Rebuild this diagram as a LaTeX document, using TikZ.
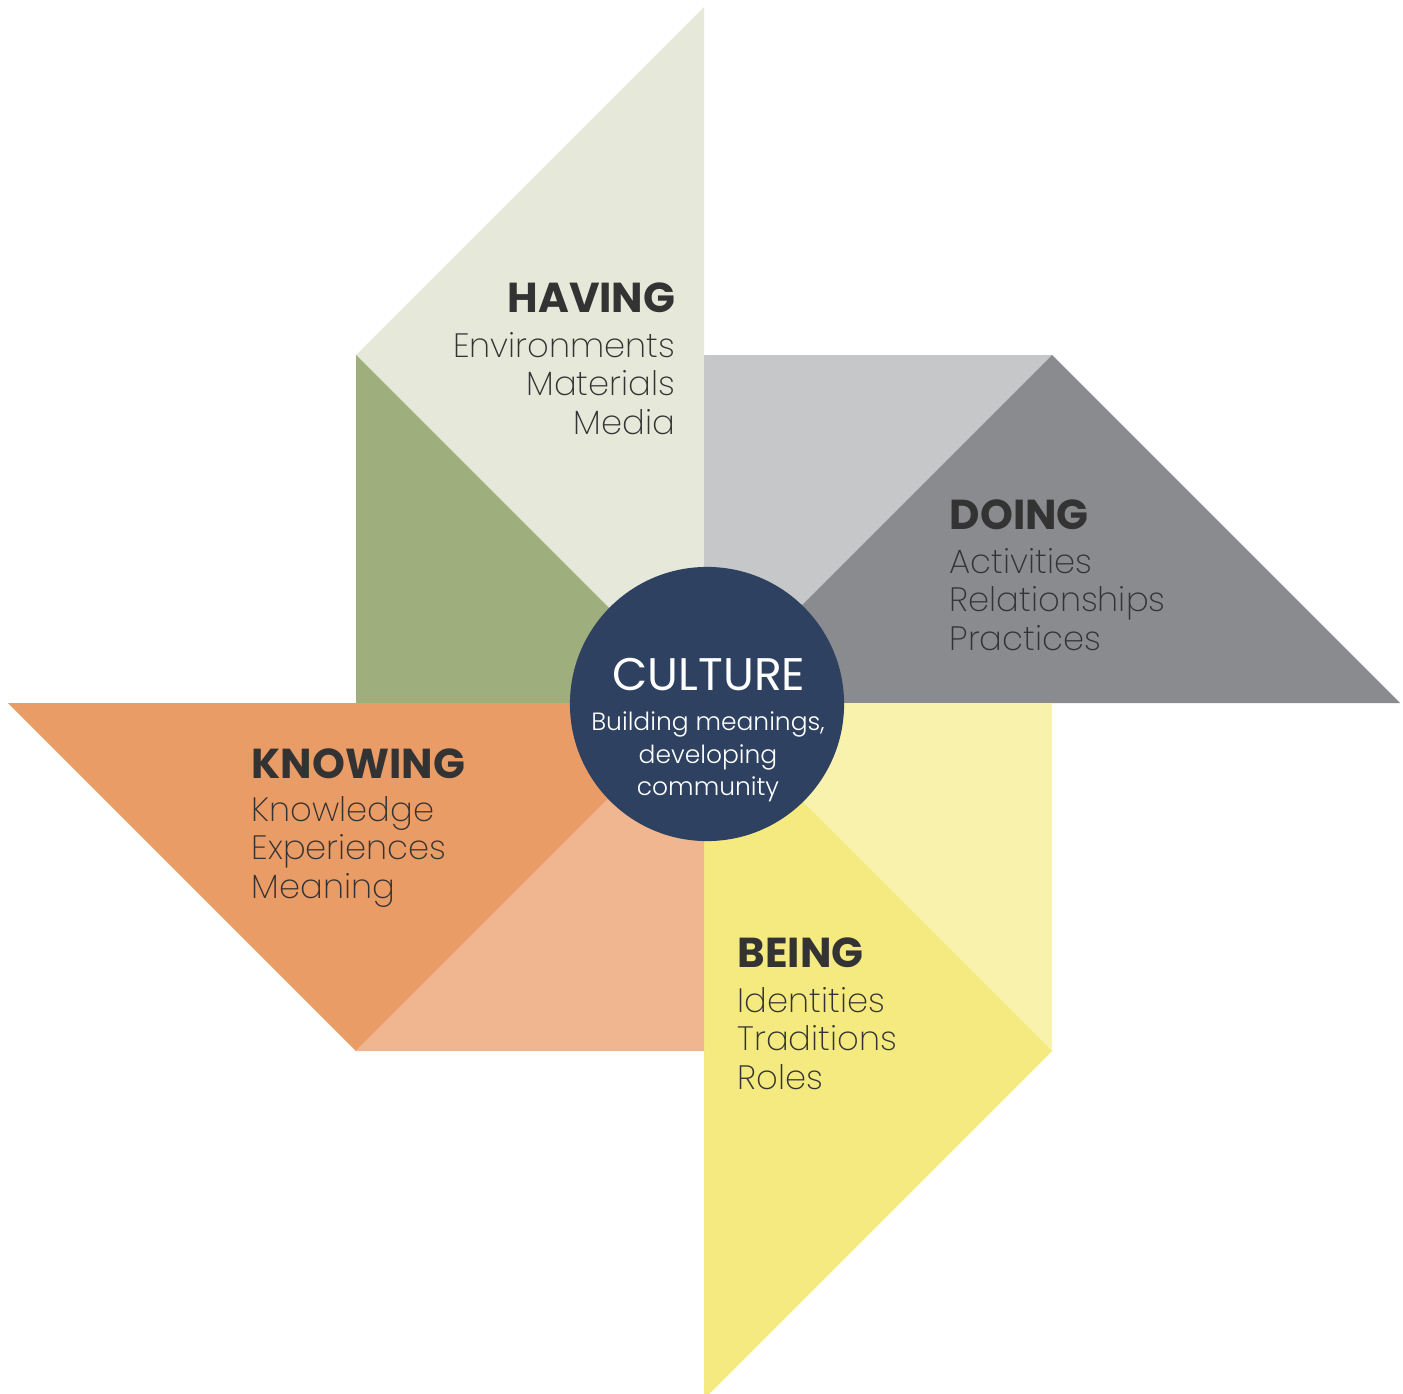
\documentclass[tikz,border=0pt]{standalone}
\usepackage{fontspec}
\setmainfont{Poppins}[UprightFont=* Light, BoldFont=* Bold]
\newfontfamily\culturefont{Poppins}
\newfontfamily\thinfont{Poppins ExtraLight}

\definecolor{havingl}{HTML}{E6E8DA}
\definecolor{havingd}{HTML}{9FAE7D}
\definecolor{doingl}{HTML}{C6C7C9}
\definecolor{doingd}{HTML}{8A8B8F}
\definecolor{beingl}{HTML}{F8F2AC}
\definecolor{beingd}{HTML}{F4EA7F}
\definecolor{knowingd}{HTML}{EA9C67}
\definecolor{knowingl}{HTML}{F0B68F}
\definecolor{navy}{HTML}{2E4160}
\definecolor{ink}{HTML}{333333}

\begin{document}
\begin{tikzpicture}[x=0.01cm, y=-0.01cm,
	head/.style={inner sep=0pt, text=ink, font=\fontsize{11.9}{12}\selectfont\bfseries},
	item/.style={inner sep=0pt, text=ink, font=\thinfont\fontsize{9.6}{10}\selectfont},
	core/.style={inner sep=0pt, text=white, font=\fontsize{7.1}{8}\selectfont}]
	\useasboundingbox (0,0) rectangle (1403,1394);
	% blades
	\fill[havingl] (704,7) -- (704,703) -- (356,355) -- cycle;
	\fill[havingd] (356,355) -- (704,703) -- (356,703) -- cycle;
	\fill[doingl] (704,355) -- (1052,355) -- (704,703) -- cycle;
	\fill[doingd] (1052,355) -- (1400,703) -- (704,703) -- cycle;
	\fill[beingl] (1052,703) -- (1052,1051) -- (704,703) -- cycle;
	\fill[beingd] (1052,1051) -- (704,1399) -- (704,703) -- cycle;
	\fill[knowingd] (8,703) -- (704,703) -- (356,1051) -- cycle;
	\fill[knowingl] (356,1051) -- (704,1051) -- (704,703) -- cycle;
	% centre
	\draw (707,704) node(culture) [circle, fill=navy, minimum size=2.74cm] {};
	\draw (709,690) node(culturet) [core, anchor=base, font=\culturefont\fontsize{13}{14}\selectfont] {CULTURE};
	\draw (708,730) node(core1) [core, anchor=base] {Building meanings,};
	\draw (708,763) node(core2) [core, anchor=base] {developing};
	\draw (708,795) node(core3) [core, anchor=base] {community};
	% labels
	\draw (676,312) node(having) [head, anchor=base east] {HAVING};
	\foreach \t [count=\i] in {Environments,Materials,Media}
		\draw (676,{357+38.5*(\i-1)}) node(having\i) [item, anchor=base east] {\t};
	\draw (949,529) node(doing) [head, anchor=base west] {DOING};
	\foreach \t [count=\i] in {Activities,Relationships,Practices}
		\draw (949,{573+38.5*(\i-1)}) node(doing\i) [item, anchor=base west] {\t};
	\draw (251,778) node(knowing) [head, anchor=base west] {KNOWING};
	\foreach \t [count=\i] in {Knowledge,Experiences,Meaning}
		\draw (251,{821+38.5*(\i-1)}) node(knowing\i) [item, anchor=base west] {\t};
	\draw (737,967) node(being) [head, anchor=base west] {BEING};
	\foreach \t [count=\i] in {Identities,Traditions,Roles}
		\draw (737,{1012+38.5*(\i-1)}) node(being\i) [item, anchor=base west] {\t};
\end{tikzpicture}
\end{document}
